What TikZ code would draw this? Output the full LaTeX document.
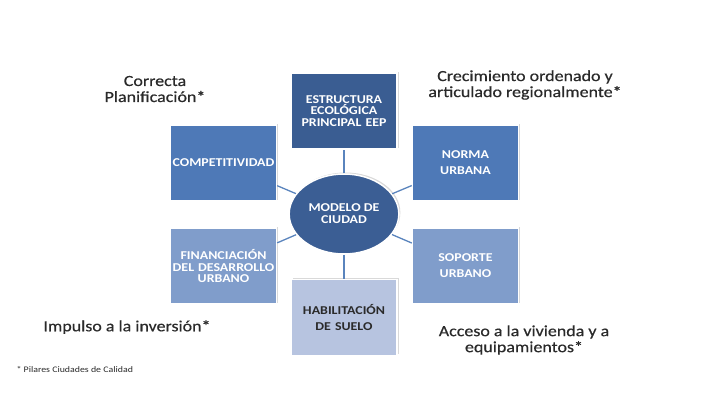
\documentclass[tikz,border=0pt]{standalone}
\usepackage{fontspec}
\setmainfont{Carlito}[FakeStretch=1.16]
\newfontfamily\lemafont{Carlito}[FakeStretch=1.16, FakeBold=0.5]
\usetikzlibrary{shapes.geometric,shadows}

\definecolor{azuloscuro}{HTML}{3A5D92}
\definecolor{azulmedio}{HTML}{4E79B7}
\definecolor{azulclaro}{HTML}{809DCB}
\definecolor{azulpalido}{HTML}{B7C4E0}
\definecolor{linea}{HTML}{5A84BD}
\definecolor{texto}{HTML}{2A2A2A}

\tikzset{
  pilar/.style={rectangle, draw=white, line width=1.5pt, minimum width=105pt, minimum height=76pt,
    text width=106pt, inner xsep=0pt, align=center, text=white, font=\bfseries\fontsize{12}{11.7}\selectfont,
    drop shadow={opacity=0.3, shadow xshift=1.5pt, shadow yshift=1.5pt}},
  ancho/.style={font=\bfseries\fontsize{12}{16}\selectfont},
  lema/.style={align=center, text=texto, font=\lemafont\fontsize{15.5}{16}\selectfont},
  enlace/.style={draw=linea, line width=1.3pt}
}

\begin{document}
\begin{tikzpicture}[x=1pt, y=-1pt]

  \useasboundingbox (0,0) rectangle (713,400);

  % pilares
  \node[pilar, fill=azuloscuro] (eep) at (344,111) {ESTRUCTURA\\ECOLÓGICA\\PRINCIPAL EEP};
  \node[pilar, fill=azulmedio] (comp) at (223.5,163) {COMPETITIVIDAD};
  \node[pilar, ancho, fill=azulmedio] (norma) at (465.5,163) {NORMA\\URBANA};
  \node[pilar, fill=azulclaro] (fin) at (223.5,266) {FINANCIACIÓN\\DEL DESARROLLO\\URBANO};
  \node[pilar, ancho, fill=azulclaro] (sop) at (465.5,266) {SOPORTE\\URBANO};
  \node[pilar, ancho, fill=azulpalido, text=texto] (hab) at (344,317.5) {HABILITACIÓN\\DE SUELO};

  % centro
  \node[ellipse, fill=azuloscuro!95!azulmedio, draw=white, line width=1.5pt, minimum width=106pt, minimum height=80pt,
    align=center, text=white, font=\bfseries\fontsize{12}{12}\selectfont,
    drop shadow={opacity=0.3, shadow xshift=1.5pt, shadow yshift=1.5pt}] (modelo) at (344,214) {MODELO DE\\CIUDAD};

  \foreach \p in {eep,comp,norma,fin,sop,hab}
    \draw[enlace] (modelo) -- (\p);

  % lemas
  \node[lema] (plan) at (155,89) {Correcta\\Planificación*};
  \node[lema] (crec) at (525,85) {Crecimiento ordenado y\\articulado regionalmente*};
  \node[lema] (impulso) at (127,327) {Impulso a la inversión*};
  \node[lema] (acceso) at (524,340) {Acceso a la vivienda y a\\equipamientos*};

  \node[anchor=west, text=texto, font=\fontsize{8.5}{9}\selectfont] (nota) at (13,370) {* Pilares Ciudades de Calidad};

\end{tikzpicture}
\end{document}
